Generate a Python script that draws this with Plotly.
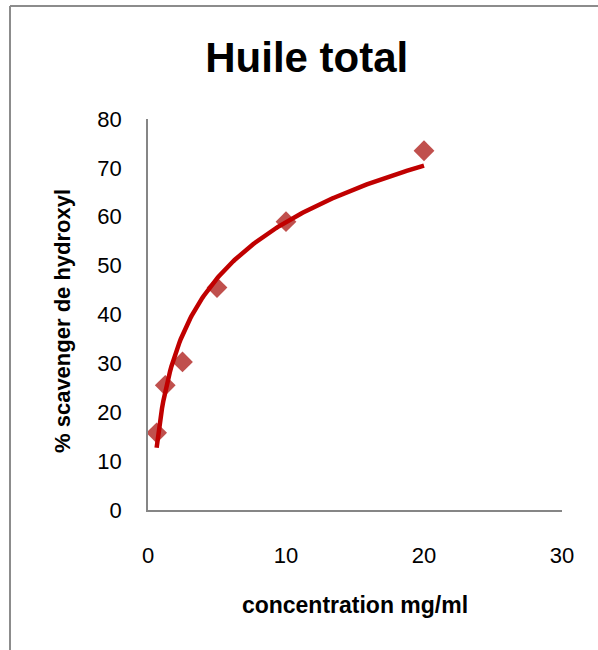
import numpy as np
import plotly.graph_objects as go

# Data
concentration = [0.625, 1.25, 2.5, 5, 10, 20]
scavenging = [15.8, 25.5, 30.3, 45.5, 59.0, 73.5]

title_text = "Huile total"
x_title = "concentration mg/ml"
y_title = "% scavenger de hydroxyl"
x_ticks = [0, 10, 20, 30]
y_ticks = [0, 10, 20, 30, 40, 50, 60, 70, 80]

# Logarithmic trendline (least squares fit on ln(x), as Excel does)
cx = np.array(concentration)
a, b = np.polyfit(np.log(cx), np.array(scavenging), 1)
trend_x = np.linspace(cx.min(), cx.max(), 200)
trend_y = a * np.log(trend_x) + b

W, H = 598, 650
L, R, T, B = 148, 36, 119, 140
pw, ph = W - L - R, H - T - B

def px_x(p):
    return (p - L) / pw

def px_y(p):
    return (H - B - p) / ph

fig = go.Figure()
fig.add_trace(go.Scatter(
    x=concentration, y=scavenging, mode="markers",
    marker=dict(symbol="diamond", size=16, color="#C0504D"),
    showlegend=False, cliponaxis=False,
))
fig.add_trace(go.Scatter(
    x=trend_x, y=trend_y, mode="lines",
    line=dict(color="#C00000", width=4.5),
    showlegend=False, cliponaxis=False,
))

font = "Liberation Sans, Arial, sans-serif"
fig.update_layout(
    width=W, height=H,
    margin=dict(l=L, r=R, t=T, b=B),
    paper_bgcolor="white", plot_bgcolor="white",
    font=dict(family=font, color="black"),
    title=dict(text="<b>%s</b>" % title_text, x=0.513, xanchor="center",
               y=1 - 57 / H, yanchor="middle",
               font=dict(size=42, family=font, color="black")),
    xaxis=dict(range=[0, 30], tickvals=x_ticks, showgrid=False, zeroline=False,
               showline=True, linecolor="#868686", linewidth=1.5,
               ticks="", tickfont=dict(size=22), ticklabelstandoff=25,
               title=dict(text="<b>%s</b>" % x_title, font=dict(size=23), standoff=30)),
    yaxis=dict(range=[0, 80], tickvals=y_ticks, showgrid=False, zeroline=False,
               showline=True, linecolor="#868686", linewidth=1.5,
               ticks="", tickfont=dict(size=22), ticklabelstandoff=20),
)

fig.add_annotation(text="<b>%s</b>" % y_title, xref="paper", yref="paper",
                   x=px_x(62), y=px_y(321), xanchor="center", yanchor="middle",
                   textangle=-90, showarrow=False, font=dict(size=22))

# Chart area border (cropped at right and bottom)
border = dict(color="#8C8C8C", width=2)
fig.add_shape(type="line", xref="paper", yref="paper",
              x0=px_x(10), x1=px_x(10), y0=px_y(6), y1=px_y(H + 10), line=border)
fig.add_shape(type="line", xref="paper", yref="paper",
              x0=px_x(10), x1=px_x(W + 10), y0=px_y(6), y1=px_y(6), line=border)

fig.write_html("out.html")
